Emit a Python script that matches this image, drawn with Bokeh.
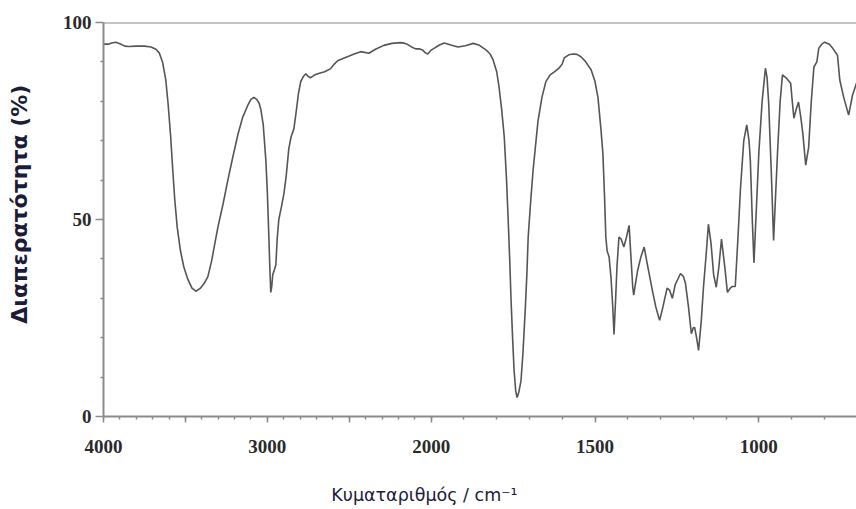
from bokeh.plotting import figure
from bokeh.models import Range1d, FixedTicker, Span, LinearAxis
from bokeh.embed import file_html
from bokeh.resources import INLINE

# ---- data ----
wavenumber = [
    4000, 3970, 3950, 3925, 3900, 3870, 3845, 3800, 3750, 3710, 3680, 3660, 3640, 3620,
    3605, 3590, 3578, 3565, 3550, 3530, 3510, 3485, 3460, 3436, 3410, 3385, 3363, 3340,
    3320, 3302, 3270, 3241, 3210, 3180, 3150, 3119, 3100, 3082, 3065, 3050, 3040, 3025,
    3009, 3000, 2991, 2985, 2979, 2973, 2967, 2955, 2948, 2940, 2930, 2915, 2899, 2885,
    2869, 2855, 2838, 2825, 2810, 2796, 2780, 2765, 2750, 2735, 2715, 2693, 2650, 2613,
    2590, 2571, 2531, 2500, 2470, 2430, 2380, 2340, 2289, 2240, 2186, 2160, 2143, 2120,
    2094, 2070, 2052, 2035, 2021, 2000, 1990, 1975, 1960, 1940, 1918, 1895, 1872, 1855,
    1832, 1820, 1811, 1800, 1793, 1785, 1777, 1770, 1765, 1760, 1756, 1751, 1747, 1742,
    1738, 1733, 1726, 1720, 1713, 1708, 1704, 1696, 1689, 1680, 1674, 1662, 1650, 1637,
    1625, 1610, 1600, 1594, 1580, 1567, 1555, 1543, 1530, 1512, 1500, 1491, 1482, 1476,
    1471, 1467, 1463, 1457, 1451, 1446, 1442, 1437, 1433, 1427, 1420, 1412, 1404, 1396,
    1390, 1385, 1382, 1376, 1370, 1360, 1350, 1340, 1325, 1315, 1303, 1295, 1280, 1272,
    1264, 1255, 1239, 1230, 1224, 1215, 1206, 1200, 1196, 1190, 1184, 1176, 1169, 1160,
    1154, 1146, 1138, 1130, 1122, 1114, 1104, 1096, 1088, 1081, 1072, 1064, 1056, 1046,
    1037, 1030, 1026, 1020, 1015, 1008, 1000, 990, 980, 975, 970, 962, 955, 949,
    943, 935, 928, 915, 903, 898, 893, 886, 879, 872, 866, 857, 848, 840,
    832, 823, 817, 808, 799, 785, 775, 760, 753, 741, 726, 714, 702, 690,
]
transmittance = [
    94.5, 94.5, 94.8, 95.0, 94.6, 94.0, 93.9, 94.0, 94.0, 93.8, 93.2, 92.3, 90.0, 85.5,
    79.0, 71.0, 63.0, 55.0, 48.0, 42.0, 38.0, 34.8, 32.6, 31.8, 32.5, 33.8, 35.5, 39.5,
    44.0, 48.0, 54.0, 60.0, 66.0, 71.5, 76.0, 79.0, 80.5, 81.0, 80.5, 79.5, 78.0, 74.0,
    65.0, 57.0, 46.0, 38.0, 31.5, 33.0, 36.0, 37.5, 38.5, 45.0, 50.0, 53.0, 56.5, 61.0,
    68.0, 71.0, 73.0, 77.0, 82.0, 85.0, 86.3, 87.0, 86.3, 86.0, 86.6, 87.0, 87.5, 88.3,
    89.5, 90.3, 91.0, 91.5, 92.0, 92.6, 92.2, 93.2, 94.2, 94.7, 94.9, 94.7, 94.4, 93.8,
    93.3, 93.3, 93.0, 92.3, 92.0, 93.0, 93.5, 94.3, 94.8, 94.3, 93.8, 94.1, 94.7, 94.3,
    93.0, 92.0, 90.5, 87.5, 83.7, 78.0, 71.0, 60.0, 50.0, 39.0, 29.0, 19.0, 11.7, 6.5,
    4.8, 6.0, 9.0, 16.0, 27.0, 36.0, 45.5, 55.0, 62.5, 70.0, 75.0, 81.0, 85.0, 86.7,
    87.4, 88.4, 89.5, 91.0, 91.8, 92.0, 91.9, 91.3, 90.2, 88.0, 85.0, 81.0, 73.0, 66.8,
    56.0, 45.5, 42.0, 40.5, 35.0, 28.0, 20.8, 30.0, 38.0, 45.5, 45.0, 43.0, 45.5, 48.5,
    40.0, 33.0, 30.8, 34.0, 37.0, 40.5, 43.0, 38.5, 32.0, 28.0, 24.4, 27.0, 32.6, 32.0,
    30.0, 33.5, 36.3, 35.5, 33.8, 28.0, 21.0, 22.5, 22.6, 20.0, 16.8, 24.0, 32.8, 42.0,
    48.8, 44.0, 36.0, 32.8, 38.0, 45.0, 38.0, 31.5, 32.5, 33.0, 33.0, 45.0, 58.0, 70.0,
    74.0, 70.0, 65.0, 50.0, 39.0, 52.0, 67.0, 80.0, 88.4, 86.0, 79.5, 62.0, 44.7, 56.0,
    67.0, 80.0, 86.7, 85.8, 84.6, 80.0, 75.7, 78.0, 79.8, 76.0, 72.0, 63.8, 68.4, 80.0,
    88.7, 90.0, 93.5, 94.5, 95.0, 94.5, 93.5, 91.7, 85.4, 81.0, 76.5, 81.6, 84.6, 86.0,
]

x_tick_wavenumbers = [4000, 3500, 3000, 2500, 2000, 1500, 1000]
x_tick_labels = ["4000", "", "3000", "", "2000", "1500", "1000"]
x_minor_wavenumbers = list(range(4000, 650, -100))
x_end_wavenumber = 702

y_ticks = [0, 50, 100]
y_tick_labels = ["0", "50", "100"]
y_minor_ticks = [10, 20, 30, 40, 60, 70, 80, 90]

x_title = "Κυματαριθμός / cm⁻¹"
y_title = "Διαπερατότητα  (%)"

SCALE_BREAK = 2000  # the wavenumber axis is expanded 2x below 2000 cm-1

NBSP = "\u00a0"
X_TITLE_SHIFT_SPACES = 20   # moves the centred x title to the left
Y_TITLE_SHIFT_SPACES = 5    # moves the centred y title upwards


def to_axis(wn):
    if wn >= SCALE_BREAK:
        return 4000 - wn
    return (4000 - SCALE_BREAK) + 2 * (SCALE_BREAK - wn)


xs = [to_axis(w) for w in wavenumber]

p = figure(
    width=856, height=509,
    output_backend="svg", toolbar_location=None,
    x_range=Range1d(0, to_axis(x_end_wavenumber)),
    y_range=Range1d(0, 100),
    min_border_left=103, min_border_right=0, min_border_top=22, min_border_bottom=93,
)
p.outline_line_color = None
p.background_fill_color = "white"
p.border_fill_color = "white"
p.xgrid.visible = False
p.ygrid.visible = False

p.line(xs, transmittance, line_color="#555555", line_width=1.6)

top_line = Span(location=100, dimension="width", line_color="#8a8a8a", line_width=2)
p.add_layout(top_line)

axis_color = "#8a8a8a"
label_color = "#2a2a2a"
title_color = "#1b1b3a"

# x axis
xa = p.xaxis[0]
xa.ticker = FixedTicker(ticks=[to_axis(w) for w in x_tick_wavenumbers],
                        minor_ticks=[to_axis(w) for w in x_minor_wavenumbers])
xa.major_label_overrides = {to_axis(w): lab for w, lab in zip(x_tick_wavenumbers, x_tick_labels)}
xa.axis_line_color = axis_color
xa.axis_line_width = 2
xa.major_tick_line_color = axis_color
xa.minor_tick_line_color = axis_color
xa.major_tick_line_width = 1.5
xa.minor_tick_line_width = 1.5
xa.major_tick_in = 0
xa.major_tick_out = 6
xa.minor_tick_in = 0
xa.minor_tick_out = 3
xa.major_label_text_font = "Liberation Serif"
xa.major_label_text_font_style = "bold"
xa.major_label_text_font_size = "19px"
xa.major_label_text_color = label_color
xa.major_label_standoff = 17

# y axis
ya = p.yaxis[0]
ya.ticker = FixedTicker(ticks=y_ticks, minor_ticks=y_minor_ticks)
ya.major_label_overrides = {t: lab for t, lab in zip(y_ticks, y_tick_labels)}
ya.axis_line_color = axis_color
ya.axis_line_width = 2
ya.major_tick_line_color = axis_color
ya.minor_tick_line_color = axis_color
ya.major_tick_line_width = 1.5
ya.minor_tick_line_width = 1.5
ya.major_tick_in = 0
ya.major_tick_out = 8
ya.minor_tick_in = 0
ya.minor_tick_out = 3
ya.major_label_text_font = "Liberation Serif"
ya.major_label_text_font_style = "bold"
ya.major_label_text_font_size = "19px"
ya.major_label_text_color = label_color
ya.major_label_standoff = 4


def title_axis(label, font_size, font_style, standoff):
    ax = LinearAxis(ticker=FixedTicker(ticks=[]), axis_label=label)
    ax.axis_line_color = None
    ax.major_tick_line_color = None
    ax.minor_tick_line_color = None
    ax.major_tick_out = 0
    ax.minor_tick_out = 0
    ax.major_label_standoff = 0
    ax.axis_label_standoff = standoff
    ax.axis_label_text_font = "DejaVu Sans"
    ax.axis_label_text_font_style = font_style
    ax.axis_label_text_font_size = font_size
    ax.axis_label_text_color = title_color
    return ax


# axis titles on label-only axes stacked outside the tick axes
p.add_layout(title_axis(x_title + NBSP * X_TITLE_SHIFT_SPACES, "17.5px", "normal", 29), "below")
p.add_layout(title_axis(NBSP * Y_TITLE_SHIFT_SPACES + y_title, "22px", "bold", 28), "left")

open("out.html", "w").write(file_html(p, INLINE))
